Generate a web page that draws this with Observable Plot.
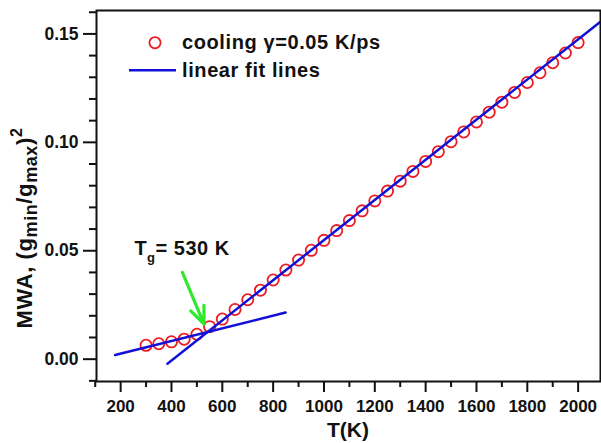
<!DOCTYPE html>
<html>
<head>
<meta charset="utf-8">
<script src="https://cdn.jsdelivr.net/npm/d3@7"></script>
<script src="https://cdn.jsdelivr.net/npm/@observablehq/plot@0.6"></script>
<style>
  html, body { margin: 0; padding: 0; background: #fff; }
  svg text { font-family: "Liberation Sans", Arial, sans-serif; font-weight: bold; }
</style>
</head>
<body>
<div id="chart"></div>
<script>
// Data
const temps = [300, 350, 400, 450, 500, 550, 600, 650, 700, 750, 800, 850, 900, 950, 1000,
  1050, 1100, 1150, 1200, 1250, 1300, 1350, 1400, 1450, 1500, 1550, 1600, 1650, 1700,
  1750, 1800, 1850, 1900, 1950, 2000];
const mwaValues = [0.0064, 0.0071, 0.0080, 0.0092, 0.0115, 0.0150, 0.0185, 0.0229, 0.0274,
  0.0318, 0.0365, 0.0411, 0.0457, 0.0502, 0.0548, 0.0593, 0.0639, 0.0684, 0.0730, 0.0775,
  0.0821, 0.0866, 0.0912, 0.0957, 0.1003, 0.1048, 0.1094, 0.1139, 0.1185, 0.1230, 0.1276,
  0.1321, 0.1367, 0.1412, 0.1460];
const fitLowT = [178, 849];
const fitLowV = [0.0019, 0.0215];
const fitHighT = [384, 2095];
const fitHighV = [-0.0021, 0.1563];
const arrowT = [443, 528];
const arrowV = [0.0400, 0.0162];
const labelT = 256;
const labelV = 0.0477;
const xMajorTicks = [200, 400, 600, 800, 1000, 1200, 1400, 1600, 1800, 2000];
const xMinorTicks = [100, 300, 500, 700, 900, 1100, 1300, 1500, 1700, 1900];
const yMajorTicks = [0.00, 0.05, 0.10, 0.15];
const yMinorTicks = [-0.01, 0.01, 0.02, 0.03, 0.04, 0.06, 0.07, 0.08, 0.09, 0.11, 0.12, 0.13, 0.14, 0.16];
const legendLabels = ["cooling \u03b3=0.05 K/ps", "linear fit lines"];

const points = temps.map((t, i) => ({T: t, v: mwaValues[i]}));
const lowLine = fitLowT.map((t, i) => ({T: t, v: fitLowV[i]}));
const highLine = fitHighT.map((t, i) => ({T: t, v: fitHighV[i]}));

const red = "#ec1c24";
const blue = "#1010d8";
const green = "#2ee82e";

const plot = Plot.plot({
  width: 601,
  height: 443,
  marginLeft: 96,
  marginRight: 1,
  marginTop: 10,
  marginBottom: 62,
  style: {fontFamily: "Liberation Sans, Arial, sans-serif", fontWeight: "bold", color: "#111", background: "#fff"},
  x: {domain: [105, 2088]},
  y: {domain: [-0.0103, 0.1608]},
  marks: [
    Plot.axisX({ticks: xMinorTicks, tickSize: 6, text: null, strokeWidth: 2, label: null}),
    Plot.axisX({ticks: xMajorTicks, tickSize: 11, tickPadding: 7, fontSize: 17, fontWeight: "bold", strokeWidth: 2, label: null, tickFormat: d3.format("d")}),
    Plot.axisY({ticks: yMinorTicks, tickSize: 7, text: null, strokeWidth: 2, label: null}),
    Plot.axisY({ticks: yMajorTicks, tickSize: 13, tickPadding: 5, fontSize: 17.5, fontWeight: "bold", strokeWidth: 2, label: null, tickFormat: d3.format(".2f")}),
    Plot.dot(points, {x: "T", y: "v", r: 5.6, stroke: red, strokeWidth: 1.8, fill: "none"}),
    Plot.line(lowLine, {x: "T", y: "v", stroke: blue, strokeWidth: 2.5, clip: true}),
    Plot.line(highLine, {x: "T", y: "v", stroke: blue, strokeWidth: 2.5, clip: true}),
    Plot.arrow([{x1: arrowT[0], y1: arrowV[0], x2: arrowT[1], y2: arrowV[1]}],
      {x1: "x1", y1: "y1", x2: "x2", y2: "y2", stroke: green, strokeWidth: 3.2, headLength: 14, headAngle: 45}),
    Plot.frame({stroke: "#111", strokeWidth: 2})
  ]
});

const svg = d3.select(plot);
const xs = plot.scale("x"), ys = plot.scale("y");

// Tg annotation
const tg = svg.append("text")
  .attr("x", xs.apply(labelT)).attr("y", ys.apply(labelV))
  .attr("text-anchor", "start").attr("letter-spacing", 0.5)
  .attr("font-size", 20).attr("fill", "#111");
tg.append("tspan").text("T");
tg.append("tspan").attr("dy", 7).attr("font-size", 13).text("g");
tg.append("tspan").attr("dy", -7).text("= 530 K");

// Legend
const legend = svg.append("g").attr("text-anchor", "start");
legend.append("circle").attr("cx", 155).attr("cy", 42.7).attr("r", 5.6)
  .attr("fill", "none").attr("stroke", red).attr("stroke-width", 1.8);
legend.append("text").attr("x", 182).attr("y", 49).attr("font-size", 20).attr("letter-spacing", 0.6)
  .attr("fill", "#111").text(legendLabels[0]);
legend.append("line").attr("x1", 129).attr("x2", 176).attr("y1", 70.3).attr("y2", 70.3)
  .attr("stroke", blue).attr("stroke-width", 2.5);
legend.append("text").attr("x", 182).attr("y", 77).attr("font-size", 20).attr("letter-spacing", 0.6)
  .attr("fill", "#111").text(legendLabels[1]);

// Axis titles
svg.append("text").attr("x", 348).attr("y", 437).attr("text-anchor", "middle")
  .attr("font-size", 21).attr("fill", "#111").text("T(K)");

const yl = svg.append("text")
  .attr("transform", "translate(32,228) rotate(-90)")
  .attr("text-anchor", "middle").attr("font-size", 22).attr("letter-spacing", 0.6)
  .attr("fill", "#111");
yl.append("tspan").text("MWA, (g");
yl.append("tspan").attr("dy", 5).attr("font-size", 18).text("min");
yl.append("tspan").attr("dy", -5).text("/g");
yl.append("tspan").attr("dy", 5).attr("font-size", 18).text("max");
yl.append("tspan").attr("dy", -5).text(")");
yl.append("tspan").attr("dy", -10).attr("font-size", 16).text("2");

document.getElementById("chart").appendChild(plot);
</script>
</body>
</html>
